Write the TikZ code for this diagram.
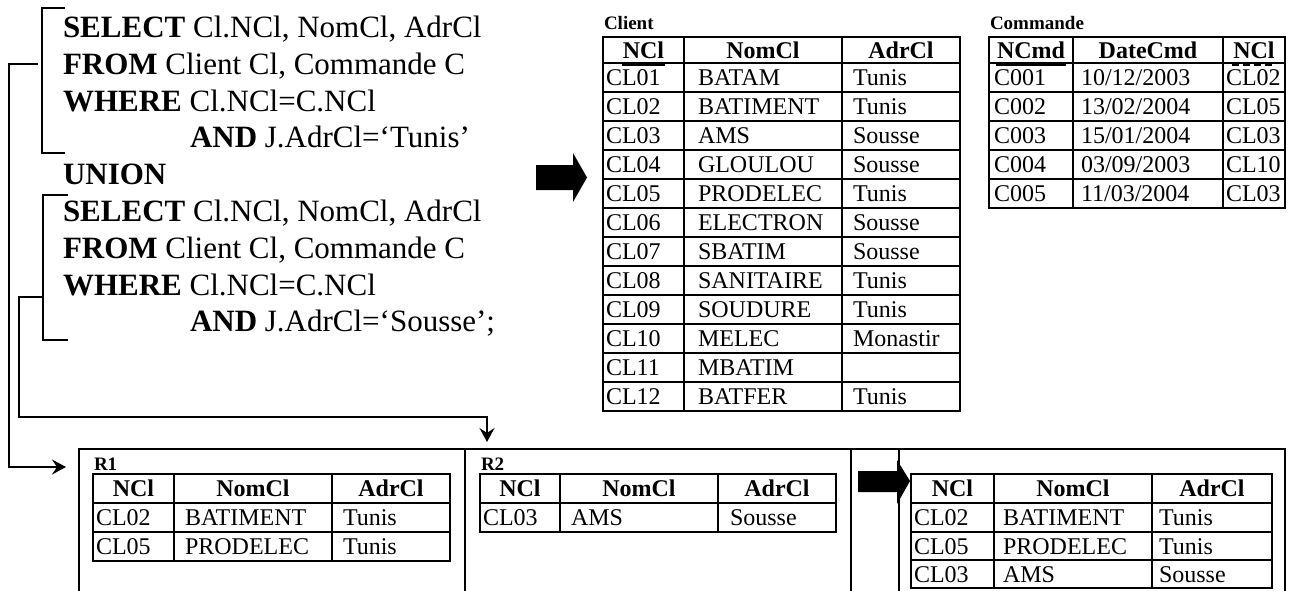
\documentclass[tikz,border=0pt]{standalone}
\usepackage{fontspec}
\setmainfont{Liberation Serif}
\usetikzlibrary{arrows.meta}
\newcommand\sqlfnt{\fontsize{15.5}{18}\selectfont}
\newcommand\tabfnt{\fontsize{12}{14}\selectfont}
\newcommand\labfnt{\fontsize{9.5}{11}\selectfont\bfseries}
\begin{document}
\begin{tikzpicture}[x=0.5pt,y=-0.5pt,line width=1pt,
  sql/.style={anchor=base west,inner sep=0pt,font=\sqlfnt},
  cell/.style={anchor=base west,inner sep=0pt,font=\tabfnt},
  head/.style={anchor=base,inner sep=0pt,font=\tabfnt\bfseries},
  tlabel/.style={anchor=base west,inner sep=0pt,font=\labfnt},
  conn/.style={line width=1pt,-{Stealth[length=7pt,width=7.5pt,inset=2.5pt]}},
  fatarrow/.style={fill=black}]
\useasboundingbox (0,0) rectangle (1308,590);
\clip (0,0) rectangle (1308,590);

% ---------- SQL text ----------
\node[sql] (s1) at (62,37)  {\textbf{SELECT} Cl.NCl, NomCl, AdrCl};
\node[sql] (s2) at (62,74)  {\textbf{FROM} Client Cl, Commande C};
\node[sql] (s3) at (62,111) {\textbf{WHERE} Cl.NCl=C.NCl};
\node[sql] (s4) at (189,147){\textbf{AND} J.AdrCl=‘Tunis’};
\node[sql] (s5) at (62,184) {\textbf{UNION}};
\node[sql] (s6) at (62,221) {\textbf{SELECT} Cl.NCl, NomCl, AdrCl};
\node[sql] (s7) at (62,258) {\textbf{FROM} Client Cl, Commande C};
\node[sql] (s8) at (62,295) {\textbf{WHERE} Cl.NCl=C.NCl};
\node[sql] (s9) at (189,331){\textbf{AND} J.AdrCl=‘Sousse’;};

% brackets
\draw (65,8) -- (42,8) -- (42,153) -- (65,153);
\draw (68,195) -- (43,195) -- (43,340) -- (68,340);

% connectors
\coordinate (b1) at (38,64);
\coordinate (o1) at (9,64);
\coordinate (o2) at (9,467);
\coordinate (t1) at (66,467);
\coordinate (b2) at (43,297);
\coordinate (i1) at (19,297);
\coordinate (i2) at (19,417);
\coordinate (i3) at (487,417);
\coordinate (t2) at (487,442);
\draw[conn] (b1) -- (o1) -- (o2) -- (t1);
\draw[conn] (b2) -- (i1) -- (i2) -- (i3) -- (t2);

% fat arrows
\fill[fatarrow] (536,165) -- (573,165) -- (573,153) -- (587,177.5) -- (573,202) -- (573,190) -- (536,190) -- cycle;
\fill[fatarrow] (858,471) -- (897,471) -- (897,460) -- (910,481) -- (897,504) -- (897,492) -- (858,492) -- cycle;

% ---------- Client table ----------
\node[tlabel] (clientlab) at (603,29) {Client};
\draw (603,37) rectangle (960,411);
\draw (684,37) -- (684,411);
\draw (842,37) -- (842,411);
\foreach \k in {0,...,11} \draw (603,{63+29*\k}) -- (960,{63+29*\k});
\node[head] (ch1) at (643.5,58) {NCl};
\node[head] (ch2) at (763,58) {NomCl};
\node[head] (ch3) at (901,58) {AdrCl};
\draw[line width=1.5pt] ([yshift=-3pt]ch1.base west) -- ([yshift=-3pt]ch1.base east);
\foreach \a/\b/\c [count=\i from 0] in {CL01/BATAM/Tunis,CL02/BATIMENT/Tunis,CL03/AMS/Sousse,CL04/GLOULOU/Sousse,CL05/PRODELEC/Tunis,CL06/ELECTRON/Sousse,CL07/SBATIM/Sousse,CL08/SANITAIRE/Tunis,CL09/SOUDURE/Tunis,CL10/MELEC/Monastir,CL11/MBATIM/,CL12/BATFER/Tunis}{
  \node[cell] (cl\i a) at (605,{63+29*\i+22.5}) {\a};
  \node[cell] (cl\i b) at (697,{63+29*\i+22.5}) {\b};
  \node[cell] (cl\i c) at (852,{63+29*\i+22.5}) {\c};
}

% ---------- Commande table ----------
\node[tlabel] (cmdlab) at (989,29) {Commande};
\draw (989,37) rectangle (1285,208);
\draw (1073,37) -- (1073,208);
\draw (1223,37) -- (1223,208);
\foreach \k in {0,...,4} \draw (989,{63+29*\k}) -- (1285,{63+29*\k});
\node[head] (mh1) at (1031,58) {NCmd};
\node[head] (mh2) at (1148,58) {DateCmd};
\node[head] (mh3) at (1254,58) {NCl};
\draw[line width=1.5pt] ([yshift=-3pt]mh1.base west) -- ([yshift=-3pt]mh1.base east);
\draw[line width=1.5pt,dash pattern=on 3.5pt off 2pt] ([yshift=-3pt]mh3.base west) -- ([yshift=-3pt]mh3.base east);
\foreach \a/\b/\c [count=\i from 0] in {C001/10\slash 12\slash 2003/CL02,C002/13\slash 02\slash 2004/CL05,C003/15\slash 01\slash 2004/CL03,C004/03\slash 09\slash 2003/CL10,C005/11\slash 03\slash 2004/CL03}{
  \node[cell] (cm\i a) at (993,{63+29*\i+22.5}) {\a};
  \node[cell] (cm\i b) at (1080,{63+29*\i+22.5}) {\b};
  \node[cell] (cm\i c) at (1225,{63+29*\i+22.5}) {\c};
}

% ---------- bottom frame ----------
\draw (79,600) -- (79,449) -- (1285,449) -- (1285,600);
\draw (465,449) -- (465,600);
\draw (851,449) -- (851,600);
\draw (899,449) -- (899,600);

% R1
\node[tlabel] (r1lab) at (93,470) {R1};
\draw (93,474) rectangle (450,561);
\draw (174,474) -- (174,561);
\draw (332,474) -- (332,561);
\draw (93,503) -- (450,503);
\draw (93,532) -- (450,532);
\node[head] (r1h1) at (133.5,496) {NCl};
\node[head] (r1h2) at (253,496) {NomCl};
\node[head] (r1h3) at (391,496) {AdrCl};
\node[cell] (r1a1) at (95,525) {CL02};
\node[cell] (r1b1) at (184,525) {BATIMENT};
\node[cell] (r1c1) at (342,525) {Tunis};
\node[cell] (r1a2) at (95,554) {CL05};
\node[cell] (r1b2) at (184,554) {PRODELEC};
\node[cell] (r1c2) at (342,554) {Tunis};

% R2
\node[tlabel] (r2lab) at (480,470) {R2};
\draw (480,474) rectangle (836,532);
\draw (560,474) -- (560,532);
\draw (718,474) -- (718,532);
\draw (480,503) -- (836,503);
\node[head] (r2h1) at (520,496) {NCl};
\node[head] (r2h2) at (639,496) {NomCl};
\node[head] (r2h3) at (777,496) {AdrCl};
\node[cell] (r2a1) at (482,525) {CL03};
\node[cell] (r2b1) at (570,525) {AMS};
\node[cell] (r2c1) at (729,525) {Sousse};

% Result
\draw (911,474) rectangle (1272,588);
\draw (994,474) -- (994,588);
\draw (1152,474) -- (1152,588);
\draw (911,503) -- (1272,503);
\draw (911,532) -- (1272,532);
\draw (911,560) -- (1272,560);
\node[head] (rh1) at (952.5,496) {NCl};
\node[head] (rh2) at (1073,496) {NomCl};
\node[head] (rh3) at (1212,496) {AdrCl};
\node[cell] (ra1) at (913,525) {CL02};
\node[cell] (rb1) at (1002,525) {BATIMENT};
\node[cell] (rc1) at (1158,525) {Tunis};
\node[cell] (ra2) at (913,554) {CL05};
\node[cell] (rb2) at (1002,554) {PRODELEC};
\node[cell] (rc2) at (1158,554) {Tunis};
\node[cell] (ra3) at (913,582) {CL03};
\node[cell] (rb3) at (1002,582) {AMS};
\node[cell] (rc3) at (1158,582) {Sousse};
\end{tikzpicture}
\end{document}
